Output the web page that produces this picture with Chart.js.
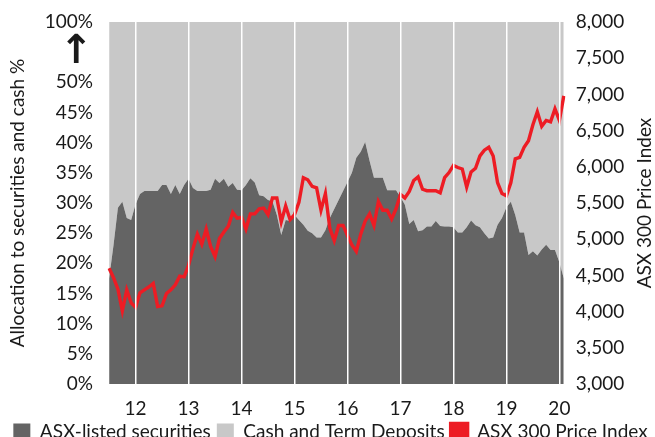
<!DOCTYPE html>
<html>
<head>
<meta charset="utf-8">
<script src="https://cdn.jsdelivr.net/npm/chart.js@4"></script>
<style>
  html, body { margin: 0; padding: 0; background: #fff; }
  #wrap { width: 655px; height: 437px; }
</style>
</head>
<body>
<div id="wrap"><canvas id="myChart"></canvas></div>
<script>
// monthly, Jul 2011 -> Feb 2020
const months = []
for (let y = 2011; y <= 2020; y++) {
    for (let m = 1; m <= 12; m++) {
        if (y === 2011 && m < 7) continue
        if (y === 2020 && m > 2) continue
        months.push(y + '-' + String(m).padStart(2, '0'))
    }
}

// % of portfolio in ASX-listed securities
const securities = [
    17.5, 23, 29.2, 30.2, 27.5, 27.2,
    29.8, 31.5, 32, 32, 32, 32, 33, 33, 31.5, 33, 31.5, 33,
    34, 32.5, 32, 32, 32, 32.2, 34, 33.3, 34, 32.7, 33.3, 32.2,
    32.1, 33, 34.1, 33.4, 31.3, 31.1, 30.5, 30.3, 28, 24.7, 27.2, 27,
    28, 27.2, 26.4, 25.4, 25, 24.3, 24.3, 25.5, 27.5, 29, 30.5, 32,
    33.5, 35, 37.5, 38.5, 40.1, 37, 34.2, 34.2, 34.2, 32.1, 32.1, 32.1,
    31, 29.7, 26.5, 27.2, 25.3, 25.5, 26.1, 26.1, 27, 26.2, 26.1, 26.1,
    26, 25.1, 25.1, 26, 27.1, 26.3, 26, 25, 24.1, 24.3, 26.4, 27.5,
    29.3, 30.2, 28, 25.1, 25.1, 21.4, 22, 21.3, 22.3, 23.1, 22.2, 22.2,
    20.2, 17.5
]
// cash and term deposits make up the rest
const cash = securities.map(v => +(100 - v).toFixed(1))

// ASX 300 price index, month end
const asx300 = [
    4600, 4470, 4310, 4010, 4300, 4120,
    4060, 4260, 4300, 4340, 4390, 4070, 4080, 4250, 4300, 4370, 4490, 4480,
    4640, 4870, 5070, 4930, 5140, 4900, 4760, 5010, 5100, 5180, 5370, 5290,
    5300, 5140, 5350, 5350, 5420, 5430, 5340, 5570, 5570, 5240, 5460, 5270,
    5340, 5510, 5850, 5820, 5730, 5710, 5400, 5630, 5150, 4980, 5190, 5190,
    5050, 4920, 4830, 5070, 5250, 5350, 5190, 5520, 5400, 5400, 5280, 5420,
    5620, 5570, 5660, 5810, 5860, 5690, 5670, 5670, 5670, 5640, 5850, 5920,
    6020, 5990, 5970, 5720, 5930, 5980, 6150, 6230, 6270, 6150, 5780, 5630,
    5600, 5780, 6110, 6130, 6270, 6360, 6580, 6760, 6560, 6640, 6620, 6800,
    6640, 6980
]

// axis break: the 60 slot is shown as 100%, 55 carries the arrow
const leftTicks = { 60: '100%', 55: '↑' }

const FONT = 'Lato, "Noto Sans", sans-serif'
Chart.defaults.font.family = FONT
Chart.defaults.font.size = 19
Chart.defaults.color = '#1a1a1a'

const ctx = document.querySelector('#myChart')

// right axis title reads bottom-to-top in the original
const rightTitle = {
    id: 'rightTitle',
    afterDraw(chart) {
        const s = chart.scales.y2
        const c = chart.ctx
        c.save()
        c.font = '19px ' + FONT
        c.fillStyle = '#1a1a1a'
        c.textAlign = 'center'
        c.textBaseline = 'middle'
        c.translate(s.right - 10, (s.top + s.bottom) / 2)
        c.rotate(-Math.PI / 2)
        c.fillText('ASX 300 Price Index', 0, 0)
        c.restore()
    }
}

new Chart(ctx, {
    type: 'line',
    data: {
        labels: months,
        datasets: [
            {
                label: 'ASX-listed securities',
                data: securities,
                yAxisID: 'y',
                order: 1,
                fill: 'origin',
                backgroundColor: '#646464',
                borderColor: '#646464',
                borderWidth: 0,
                pointRadius: 0,
                tension: 0
            },
            {
                label: 'Cash and Term Deposits',
                data: cash,
                yAxisID: 'y',
                order: 2,
                fill: '-1',
                backgroundColor: '#c8c8c8',
                borderColor: '#c8c8c8',
                borderWidth: 0,
                pointRadius: 0,
                tension: 0
            },
            {
                label: 'ASX 300 Price Index',
                data: asx300,
                yAxisID: 'y2',
                order: 0,
                fill: false,
                backgroundColor: '#ed1c24',
                borderColor: '#ed1c24',
                borderWidth: 3.4,
                pointRadius: 0,
                tension: 0
            }
        ]
    },
    plugins: [rightTitle],
    options: {
        responsive: true,
        maintainAspectRatio: false,
        animation: false,
        layout: { padding: { top: 22, left: 6, right: 0, bottom: -14.5 } },
        plugins: {
            tooltip: { enabled: false },
            legend: {
                position: 'bottom',
                labels: {
                    boxWidth: 17,
                    boxHeight: 17,
                    padding: 6,
                    sort: (a, b) => a.datasetIndex - b.datasetIndex,
                    font: { size: 19, lineHeight: 1 }
                }
            }
        },
        scales: {
            x: {
                offset: false,
                afterFit: s => { s.height = 32.5 },
                grid: {
                    z: 1,
                    color: '#ffffff',
                    lineWidth: 1.5,
                    drawTicks: false
                },
                border: { display: false },
                ticks: {
                    autoSkip: false,
                    maxRotation: 0,
                    padding: 15,
                    font: { size: 19, lineHeight: 1 },
                    callback: function (value, index) {
                        const lab = months[index]
                        if (lab.endsWith('-01')) return lab.slice(2, 4)
                        return null
                    }
                }
            },
            y: {
                position: 'left',
                stacked: true,
                min: 0,
                max: 60,
                grid: { display: false },
                border: { display: false },
                ticks: {
                    stepSize: 5,
                    autoSkip: false,
                    padding: 8,
                    callback: v => leftTicks[v] !== undefined ? leftTicks[v] : v + '%',
                    font: c => c.tick && c.tick.value === 55
                        ? { size: 40, weight: 'bold', family: '"DejaVu Sans", sans-serif' }
                        : { size: 19 }
                },
                title: {
                    display: true,
                    text: 'Allocation to securities and cash %',
                    font: { size: 19 },
                    padding: { top: 0, bottom: 8 }
                }
            },
            y2: {
                position: 'right',
                min: 3000,
                max: 8000,
                grid: { display: false },
                border: { display: false },
                ticks: {
                    stepSize: 500,
                    autoSkip: false,
                    padding: 4,
                    callback: v => v.toLocaleString('en-US')
                },
                title: {
                    // space is kept here, text drawn by rightTitle
                    display: true,
                    text: 'ASX 300 Price Index',
                    color: 'rgba(0,0,0,0)',
                    font: { size: 19 },
                    padding: { top: 4, bottom: 0 }
                }
            }
        }
    }
})
</script>
</body>
</html>
